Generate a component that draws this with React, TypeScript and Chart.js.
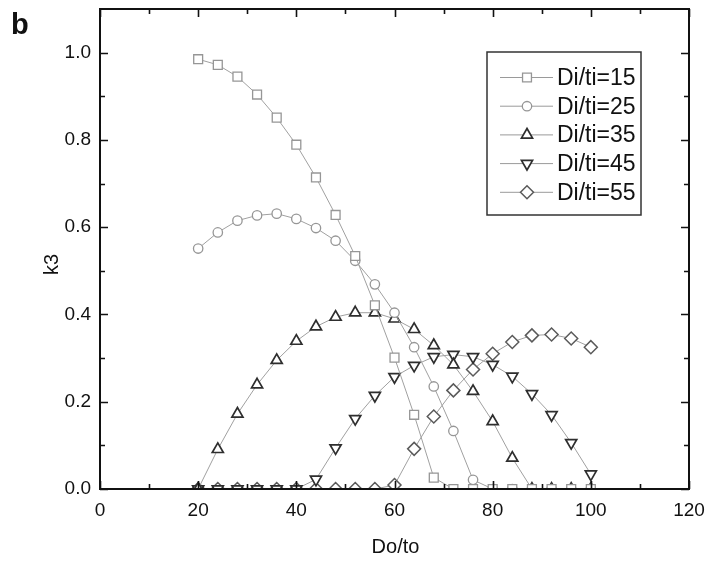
import React, { useEffect, useRef } from 'react';
import { Chart, registerables } from 'chart.js';
import { drawPoint } from 'chart.js/helpers';

Chart.register(...registerables);

// Outer-to-thickness ratio Do/to sampled every 4 units
const doTo = [20, 24, 28, 32, 36, 40, 44, 48, 52, 56, 60, 64, 68, 72, 76, 80, 84, 88, 92, 96, 100];

// k3 for each inner ratio Di/ti
const k3Di15 = [0.985, 0.972, 0.945, 0.904, 0.851, 0.789, 0.714, 0.628, 0.534, 0.421, 0.301, 0.170, 0.026, 0, 0, 0, 0, 0, 0, 0, 0];
const k3Di25 = [0.551, 0.588, 0.615, 0.627, 0.631, 0.619, 0.598, 0.569, 0.523, 0.469, 0.404, 0.325, 0.235, 0.133, 0.021, 0, 0, 0, 0, 0, 0];
const k3Di35 = [0, 0.091, 0.172, 0.239, 0.295, 0.339, 0.372, 0.394, 0.404, 0.404, 0.390, 0.366, 0.329, 0.285, 0.224, 0.155, 0.071, 0, 0, 0, 0];
const k3Di45 = [0, 0, 0, 0, 0, 0, 0.022, 0.094, 0.161, 0.214, 0.257, 0.283, 0.303, 0.308, 0.303, 0.285, 0.258, 0.218, 0.170, 0.106, 0.034];
const k3Di55 = [0, 0, 0, 0, 0, 0, 0, 0, 0, 0, 0.009, 0.092, 0.166, 0.226, 0.274, 0.310, 0.337, 0.352, 0.354, 0.345, 0.325];

const seriesLabels = ['Di/ti=15', 'Di/ti=25', 'Di/ti=35', 'Di/ti=45', 'Di/ti=55'];

const xTickValues = [0, 20, 40, 60, 80, 100, 120];
const xMinorValues = [10, 30, 50, 70, 90, 110];
const yTickValues = [0, 0.2, 0.4, 0.6, 0.8, 1.0];
const yMinorValues = [0.1, 0.3, 0.5, 0.7, 0.9];

const FONT = '"Liberation Sans", Arial, Helvetica, sans-serif';

type MarkerStyle = { pointStyle: string; radius: number; rotation: number; color: string; width: number };

const markers: MarkerStyle[] = [
  { pointStyle: 'rect', radius: 6.3, rotation: 0, color: '#969696', width: 1.3 },
  { pointStyle: 'circle', radius: 4.7, rotation: 0, color: '#969696', width: 1.3 },
  { pointStyle: 'triangle', radius: 6.4, rotation: 0, color: '#2e2e2e', width: 1.7 },
  { pointStyle: 'triangle', radius: 6.4, rotation: 180, color: '#2e2e2e', width: 1.7 },
  { pointStyle: 'rectRot', radius: 6.5, rotation: 0, color: '#5a5a5a', width: 1.5 },
];

const seriesValues = [k3Di15, k3Di25, k3Di35, k3Di45, k3Di55];

// Boxed frame with inward major/minor ticks on all four sides
const framePlugin = {
  id: 'frame',
  afterDatasetsDraw(chart: any) {
    const { ctx, chartArea: a, scales } = chart;
    const xs = scales.x;
    const ys = scales.y;
    ctx.save();
    ctx.strokeStyle = '#111';
    ctx.lineWidth = 1.6;
    ctx.beginPath();
    const xTick = (v: number, len: number) => {
      const px = Math.round(xs.getPixelForValue(v)) + 0.5;
      ctx.moveTo(px, a.bottom);
      ctx.lineTo(px, a.bottom - len);
      ctx.moveTo(px, a.top);
      ctx.lineTo(px, a.top + len);
    };
    const yTick = (v: number, len: number) => {
      const py = Math.round(ys.getPixelForValue(v)) + 0.5;
      ctx.moveTo(a.left, py);
      ctx.lineTo(a.left + len, py);
      ctx.moveTo(a.right, py);
      ctx.lineTo(a.right - len, py);
    };
    xTickValues.forEach((v) => xTick(v, 8));
    xMinorValues.forEach((v) => xTick(v, 5));
    yTickValues.forEach((v) => yTick(v, 8));
    yMinorValues.forEach((v) => yTick(v, 5));
    ctx.stroke();
    ctx.lineWidth = 2;
    ctx.strokeRect(a.left, a.top, a.right - a.left, a.bottom - a.top);
    ctx.restore();
  },
};

// Axis titles, panel letter and the boxed legend
const annotatePlugin = {
  id: 'annotate',
  afterDraw(chart: any) {
    const { ctx, chartArea: a } = chart;
    ctx.save();
    ctx.fillStyle = '#111';

    ctx.font = `bold 29px ${FONT}`;
    ctx.textAlign = 'left';
    ctx.textBaseline = 'alphabetic';
    ctx.fillText('b', 11, 34);

    ctx.font = `20px ${FONT}`;
    ctx.textAlign = 'center';
    ctx.fillText('Do/to', (a.left + a.right) / 2 + 1, 553);

    ctx.save();
    ctx.translate(58, a.top + (a.bottom - a.top) * 0.532);
    ctx.rotate(-Math.PI / 2);
    ctx.fillText('k3', 0, 0);
    ctx.restore();

    // legend
    const box = { left: 487, top: 52, right: 641, bottom: 215 };
    ctx.fillStyle = '#fff';
    ctx.fillRect(box.left, box.top, box.right - box.left, box.bottom - box.top);
    ctx.strokeStyle = '#333';
    ctx.lineWidth = 1.5;
    ctx.strokeRect(box.left, box.top, box.right - box.left, box.bottom - box.top);

    chart.data.datasets.forEach((ds: any, i: number) => {
      const y = 77.5 + i * 28.7;
      ctx.strokeStyle = '#9a9a9a';
      ctx.lineWidth = 1;
      ctx.beginPath();
      ctx.moveTo(500, y);
      ctx.lineTo(553, y);
      ctx.stroke();
      const m = markers[i];
      ctx.fillStyle = '#fff';
      ctx.strokeStyle = m.color;
      ctx.lineWidth = m.width;
      drawPoint(ctx, { pointStyle: m.pointStyle as any, radius: m.radius, rotation: m.rotation, borderWidth: m.width }, 527, y);
      ctx.fillStyle = '#111';
      ctx.font = `23px ${FONT}`;
      ctx.textAlign = 'left';
      ctx.textBaseline = 'middle';
      ctx.fillText(ds.label, 557, y + 1);
    });
    ctx.restore();
  },
};

export default function App() {
  const canvasRef = useRef<HTMLCanvasElement | null>(null);

  useEffect(() => {
    if (!canvasRef.current) return;
    const datasets = seriesValues.map((vals, i) => {
      const m = markers[i];
      return {
        label: seriesLabels[i],
        data: doTo.map((x, j) => ({ x, y: vals[j] })),
        borderColor: '#a0a0a0',
        borderWidth: 1,
        tension: 0,
        pointStyle: m.pointStyle,
        pointRadius: m.radius,
        pointRotation: m.rotation,
        pointBorderColor: m.color,
        pointBorderWidth: m.width,
        pointBackgroundColor: '#ffffff',
        clip: { left: false, top: false, right: false, bottom: 0 },
      };
    });

    const chart = new Chart(canvasRef.current, {
      type: 'line',
      data: { datasets: datasets as any },
      options: {
        animation: false,
        responsive: false,
        devicePixelRatio: 1,
        layout: { padding: { top: 9, right: 18, left: 0, bottom: 0 } },
        plugins: { legend: { display: false }, tooltip: { enabled: false } },
        scales: {
          x: {
            type: 'linear',
            min: 0,
            max: 120,
            grid: { display: false, drawTicks: false },
            border: { display: false },
            afterBuildTicks: (s: any) => {
              s.ticks = xTickValues.map((value) => ({ value }));
            },
            afterFit: (s: any) => {
              s.height = 73;
              s.paddingLeft = 0;
              s.paddingRight = 0;
            },
            ticks: {
              color: '#111',
              padding: 10,
              font: { family: FONT, size: 19 },
              callback: (v: any) => String(v),
            },
          },
          y: {
            type: 'linear',
            min: 0,
            max: 1.1,
            grid: { display: false, drawTicks: false },
            border: { display: false },
            afterBuildTicks: (s: any) => {
              s.ticks = yTickValues.map((value) => ({ value }));
            },
            afterFit: (s: any) => {
              s.width = 100;
              s.paddingTop = 0;
              s.paddingBottom = 0;
            },
            ticks: {
              color: '#111',
              padding: 9,
              font: { family: FONT, size: 19 },
              callback: (v: any) => Number(v).toFixed(1),
            },
          },
        },
      },
      plugins: [framePlugin, annotatePlugin],
    });
    return () => chart.destroy();
  }, []);

  return (
    <div style={{ position: 'absolute', left: 0, top: 0, width: 707, height: 562, background: '#fff' }}>
      <canvas ref={canvasRef} width={707} height={562} />
    </div>
  );
}
